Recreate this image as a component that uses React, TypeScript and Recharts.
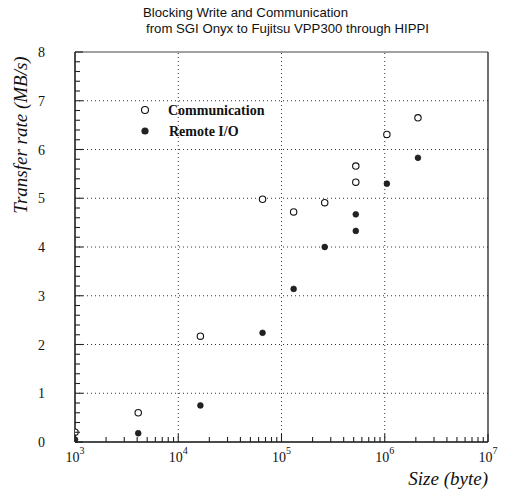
import React from 'react';
import { ScatterChart, Scatter, XAxis, YAxis, ReferenceLine } from 'recharts';

const commSize = [1000, 4096, 16384, 65536, 131072, 262144, 524288, 524288, 1048576, 2097152];
const commRate = [0.2, 0.6, 2.17, 4.98, 4.72, 4.91, 5.66, 5.33, 6.31, 6.65];
const rioSize = [1000, 4096, 16384, 65536, 131072, 262144, 524288, 524288, 1048576, 2097152];
const rioRate = [0.05, 0.18, 0.75, 2.24, 3.14, 4.0, 4.67, 4.33, 5.3, 5.83];

const majorX = [1000, 10000, 100000, 1000000, 10000000];
const gridX = [10000, 100000, 1000000];
const gridY = [1, 2, 3, 4, 5, 6, 7];

const minorX: number[] = [];
[1000, 10000, 100000, 1000000].forEach((d) => {
  for (let m = 2; m <= 9; m++) minorX.push(d * m);
});
const allX = [...majorX, ...minorX].sort((a, b) => a - b);
const allY: number[] = [];
for (let i = 0; i <= 40; i++) allY.push(Math.round(i * 2) / 10);

const commData = commSize.map((s, i) => ({ size: s, rate: commRate[i] }));
const rioData = rioSize.map((s, i) => ({ size: s, rate: rioRate[i] }));

const SERIF = "'Liberation Serif', 'DejaVu Serif', serif";
const SANS = "'Liberation Sans', Arial, sans-serif";

const XTick = (props: any) => {
  const { x, y, payload } = props;
  const v = Number(payload.value);
  const major = majorX.includes(v);
  const exp = Math.round(Math.log10(v));
  const xx = Number(x);
  const yy = Number(y);
  return (
    <g>
      <path d={`M${xx},${yy}L${xx},${yy - (major ? 8 : 5)}`} stroke="#222" strokeWidth={1.1} fill="none" />
      {major && (
        <text x={xx} y={yy + 20} textAnchor="middle" fontFamily={SERIF} fontSize={14} fill="#111">
          10<tspan dy={-8} fontSize={10}>{exp}</tspan>
        </text>
      )}
    </g>
  );
};

const YTick = (props: any) => {
  const { x, y, payload } = props;
  const v = Number(payload.value);
  const major = Math.abs(v - Math.round(v)) < 1e-6;
  const xx = Number(x);
  const yy = Number(y);
  return (
    <g>
      <path d={`M${xx},${yy}L${xx + (major ? 8 : 5)},${yy}`} stroke="#222" strokeWidth={1.1} fill="none" />
      {major && (
        <text x={xx - 30} y={yy + 5} textAnchor="end" fontFamily={SERIF} fontSize={14} fill="#111">
          {Math.round(v)}
        </text>
      )}
    </g>
  );
};

const OpenDot = (props: any) => (
  <circle cx={props.cx} cy={props.cy} r={3.2} fill="#fff" stroke="#111" strokeWidth={1.1} />
);
const FilledDot = (props: any) => (
  <circle cx={props.cx} cy={props.cy} r={2.9} fill="#222" stroke="#111" strokeWidth={0.6} />
);

export default function App() {
  return (
    <div style={{ position: 'absolute', left: 0, top: 0, width: 507, height: 492, background: '#fff' }}>
      <ScatterChart width={507} height={492} margin={{ top: 52, right: 19, bottom: 0, left: 0 }}>
        <XAxis
          dataKey="size"
          type="number"
          scale="log"
          domain={[1000, 10000000]}
          allowDataOverflow
          ticks={allX}
          interval={0}
          tick={<XTick />}
          tickLine={false}
          tickSize={0}
          tickMargin={0}
          height={50}
          axisLine={{ stroke: '#111', strokeWidth: 1.5 }}
        />
        <YAxis
          dataKey="rate"
          type="number"
          domain={[0, 8]}
          ticks={allY}
          interval={0}
          tick={<YTick />}
          tickLine={false}
          tickSize={0}
          tickMargin={0}
          width={75}
          axisLine={{ stroke: '#111', strokeWidth: 1.5 }}
        />
        {gridX.map((g) => (
          <ReferenceLine key={'gx' + g} x={g} stroke="#333" strokeDasharray="1 3" strokeWidth={1} />
        ))}
        {gridY.map((g) => (
          <ReferenceLine key={'gy' + g} y={g} stroke="#333" strokeDasharray="1 3" strokeWidth={1} />
        ))}
        <ReferenceLine y={8} stroke="#444" strokeWidth={1} />
        <ReferenceLine x={10000000} stroke="#222" strokeWidth={1.3} />
        <Scatter data={commData} shape={<OpenDot />} isAnimationActive={false} />
        <Scatter data={rioData} shape={<FilledDot />} isAnimationActive={false} />
      </ScatterChart>
      <svg
        width={507}
        height={492}
        style={{ position: 'absolute', left: 0, top: 0, pointerEvents: 'none' }}
      >
        <text x={143} y={17} fontFamily={SANS} fontSize={13.2} fill="#111">
          Blocking Write and Communication
        </text>
        <text x={146} y={33} fontFamily={SANS} fontSize={13.2} fill="#111">
          from SGI Onyx to Fujitsu VPP300 through HIPPI
        </text>
        <circle cx={145} cy={110} r={3.5} fill="#fff" stroke="#111" strokeWidth={1.1} />
        <text x={168} y={115} fontFamily={SERIF} fontWeight="bold" fontSize={14} fill="#111">
          Communication
        </text>
        <circle cx={145} cy={131} r={3.6} fill="#222" />
        <text x={169} y={136} fontFamily={SERIF} fontWeight="bold" fontSize={14} fill="#111">
          Remote I/O
        </text>
        <text
          x={0}
          y={0}
          transform="translate(27,135) rotate(-90)"
          textAnchor="middle"
          fontFamily={SERIF}
          fontStyle="italic"
          fontSize={19}
          fill="#111"
        >
          Transfer rate (MB/s)
        </text>
        <text x={488} y={485} textAnchor="end" fontFamily={SERIF} fontStyle="italic" fontSize={19} fill="#111">
          Size (byte)
        </text>
      </svg>
    </div>
  );
}
